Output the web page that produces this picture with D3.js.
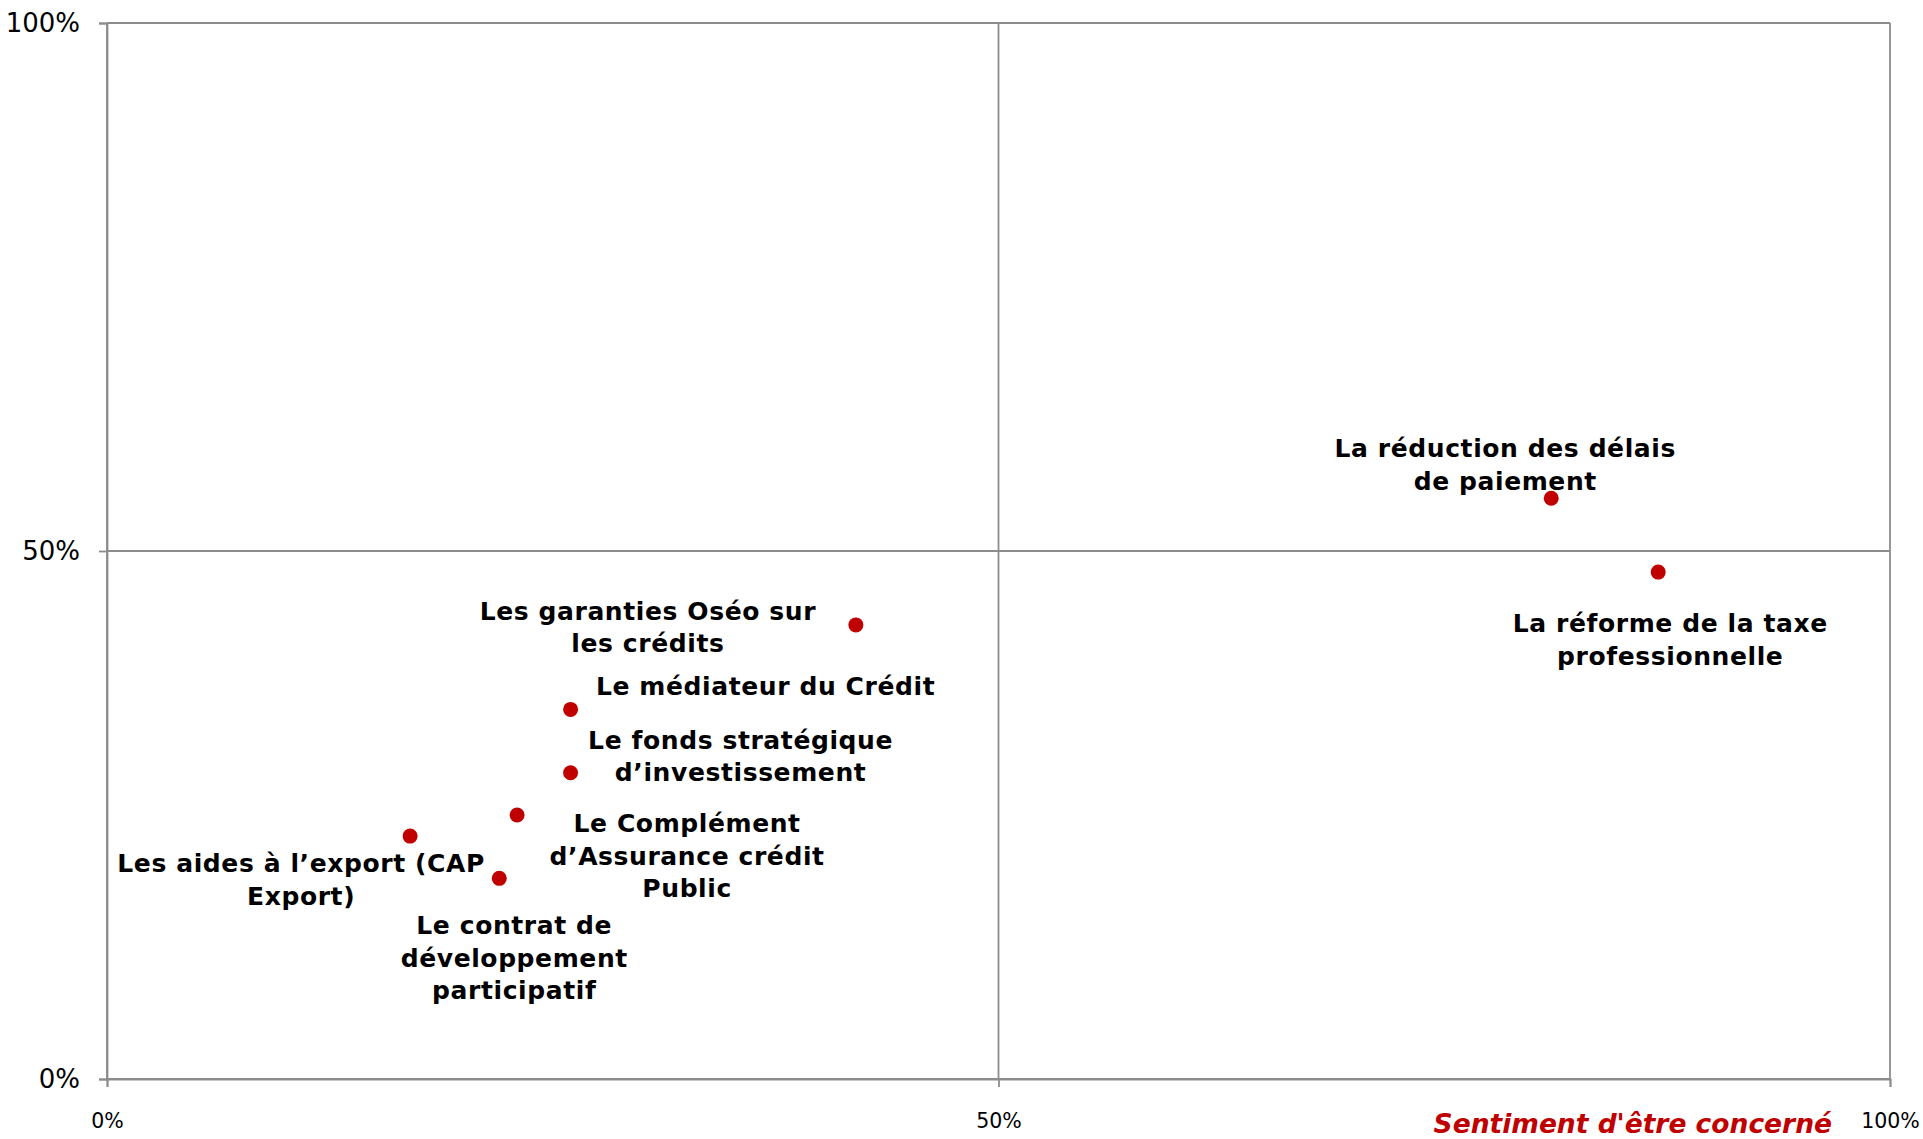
<!DOCTYPE html>
<html>
<head>
<meta charset="utf-8">
<script src="https://cdn.jsdelivr.net/npm/d3@7"></script>
<style>
  body { margin: 0; background: #fff; }
  svg { display: block; }
</style>
</head>
<body>
<svg id="chart" width="1923" height="1139"></svg>
<script>
// labels of each measure (one entry per point, lines split for wrapping)
const names = [
  ["La réduction des délais", "de paiement"],
  ["La réforme de la taxe", "professionnelle"],
  ["Les garanties Oséo sur", "les crédits"],
  ["Le médiateur du Crédit"],
  ["Le fonds stratégique", "d\u2019investissement"],
  ["Le Complément", "d\u2019Assurance crédit", "Public"],
  ["Les aides à l\u2019export (CAP", "Export)"],
  ["Le contrat de", "développement", "participatif"]
];
// x = sentiment d'être concerné, y = second dimension
const xValues = [0.81, 0.87, 0.42, 0.26, 0.26, 0.23, 0.17, 0.22];
const yValues = [0.55, 0.48, 0.43, 0.35, 0.29, 0.25, 0.23, 0.19];
const tickValues = [0, 0.5, 1];
const xTitle = "Sentiment d'être concerné";

// label placement relative to each point (px): centre offset, first baseline offset
const labelOffsets = [
  [-46, -41], [12, 60], [-208, -5], [195, -14],
  [170, -24], [170, 17], [-109, 36], [15, 56]
];

const svg = d3.select("#chart");
const margin = { top: 23, right: 33, bottom: 60, left: 107 };
const width = +svg.attr("width");
const height = +svg.attr("height");
const innerWidth = width - margin.left - margin.right;
const innerHeight = height - margin.top - margin.bottom;

const g = svg.append("g")
  .attr("transform", `translate(${margin.left},${margin.top})`);

const x = d3.scaleLinear().domain([0, 1]).range([0, innerWidth]);
const y = d3.scaleLinear().domain([0, 1]).range([innerHeight, 0]);

const gridColor = "#8c8c8c";

// grid lines (the 100% ones make the top and right frame)
g.selectAll("line.hgrid")
  .data(tickValues)
  .enter().append("line")
  .attr("class", "hgrid")
  .attr("x1", 0).attr("x2", innerWidth)
  .attr("y1", d => y(d)).attr("y2", d => y(d))
  .attr("stroke", gridColor).attr("stroke-width", 1.8);

g.selectAll("line.vgrid")
  .data(tickValues)
  .enter().append("line")
  .attr("class", "vgrid")
  .attr("y1", 0).attr("y2", innerHeight)
  .attr("x1", d => x(d)).attr("x2", d => x(d))
  .attr("stroke", gridColor).attr("stroke-width", 1.8);

const yAxis = g.append("g")
  .call(d3.axisLeft(y).tickValues(tickValues).tickSize(8).tickPadding(19)
    .tickFormat(d3.format(".0%")));

const xAxis = g.append("g")
  .attr("transform", `translate(0,${innerHeight})`)
  .call(d3.axisBottom(x).tickValues(tickValues).tickSize(8).tickPadding(26)
    .tickFormat(d3.format(".0%")));

[yAxis, xAxis].forEach(a => {
  a.select(".domain").attr("stroke", gridColor).attr("stroke-width", 1.8);
  a.selectAll(".tick line").attr("stroke", gridColor).attr("stroke-width", 1.8);
  a.selectAll(".tick text")
    .attr("fill", "#000")
    .attr("font-family", "'DejaVu Sans', Verdana, sans-serif");
});
yAxis.selectAll(".tick text").attr("font-size", 26);
xAxis.selectAll(".tick text").attr("font-size", 20.5);

// axis title
g.append("text")
  .attr("x", 1832 - margin.left)
  .attr("y", 1133 - margin.top)
  .attr("text-anchor", "end")
  .attr("fill", "#c00000")
  .attr("font-family", "'DejaVu Sans', Verdana, sans-serif")
  .attr("font-style", "italic")
  .attr("font-weight", "bold")
  .attr("font-size", 26.5)
  .text(xTitle);

// points
const data = names.map((n, i) => ({ name: n, x: xValues[i], y: yValues[i], off: labelOffsets[i] }));

g.selectAll("circle.pt")
  .data(data)
  .enter().append("circle")
  .attr("class", "pt")
  .attr("cx", d => x(d.x))
  .attr("cy", d => y(d.y))
  .attr("r", 7.5)
  .attr("fill", "#c00000");

// labels
const labels = g.selectAll("text.lbl")
  .data(data)
  .enter().append("text")
  .attr("class", "lbl")
  .attr("text-anchor", "middle")
  .attr("font-family", "'DejaVu Sans', Verdana, sans-serif")
  .attr("font-weight", "bold")
  .attr("font-size", 25)
  .attr("letter-spacing", 0.6)
  .attr("fill", "#000")
  .attr("transform", d => `translate(${x(d.x) + d.off[0]},${y(d.y) + d.off[1]})`);

labels.selectAll("tspan")
  .data(d => d.name)
  .enter().append("tspan")
  .attr("x", 0)
  .attr("y", (d, i) => i * 32.5)
  .text(d => d);
</script>
</body>
</html>
